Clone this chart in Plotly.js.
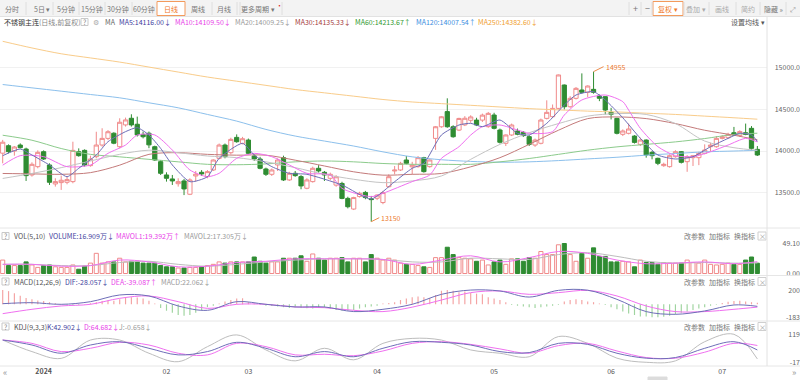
<!DOCTYPE html>
<html><head><meta charset="utf-8">
<script src="https://cdn.plot.ly/plotly-3.0.1.min.js"></script>
<style>html,body{margin:0;padding:0;background:#fff;overflow:hidden}#chart{width:800px;height:380px}</style>
</head><body><div id="chart"></div>
<script>
// ---------- data ----------
const openP = [13974,14064,14000,14072,14024,13712,13812,13992,13832,13604,13620,13624,13632,13992,14008,13824,13932,14072,14152,14214,14052,14314,14394,14322,14200,14214,14052,13872,13712,13664,13607,13640,13480,13700,13744,13692,13772,13912,14072,13980,14164,14092,14132,13940,13904,13784,13720,13832,13920,13652,13732,13692,13552,13632,13792,13744,13672,13590,13610,13430,13302,13452,13502,13424,13432,13380,13571,13760,13772,13892,13810,13812,13920,13812,14152,14292,14474,14292,14252,14314,14370,14372,14372,14293,14433,14253,14093,14193,14241,14225,14173,14072,14093,14393,14413,14513,14794,14533,14634,14734,14706,14742,14662,14654,14465,14393,14201,14213,14180,14080,14132,13984,13912,13824,13812,13932,13992,13872,13920,13920,13972,14052,14052,14152,14160,14220,14186,14220,14273,14020];
const highP = [14134,14080,14060,14092,14040,13864,14008,14008,13852,13672,13704,13692,14112,14032,14020,13944,14232,14274,14252,14226,14394,14402,14442,14414,14234,14234,14064,13892,13744,13712,13672,13664,13672,13760,13770,13770,13900,14090,14090,14160,14200,14170,14150,13960,13930,13800,13790,13912,13944,13750,13760,13710,13672,13812,13830,13760,13740,13710,13630,13450,13450,13510,13520,13460,13480,13520,13720,13820,13870,13940,13870,13940,13930,13900,14300,14420,14634,14310,14400,14420,14430,14400,14450,14470,14460,14270,14200,14330,14270,14240,14190,14150,14390,14610,14560,14920,14800,14660,14770,14934,14790,14955,14680,14660,14520,14400,14260,14330,14190,14160,14140,14000,13920,13860,13960,14010,14000,13950,13950,13990,14080,14100,14180,14190,14220,14290,14250,14330,14300,14060];
const lowP = [13852,13972,13944,14032,13640,13692,13792,13892,13592,13572,13532,13600,13612,13932,13812,13812,13912,14052,14132,14082,14032,14294,14294,14174,14152,14034,13880,13712,13632,13592,13572,13470,13470,13632,13700,13672,13760,13900,13912,13960,14100,14080,13960,13880,13780,13700,13700,13760,13640,13640,13690,13540,13540,13620,13740,13640,13650,13570,13420,13310,13290,13440,13420,13150,13410,13360,13560,13720,13760,13840,13720,13800,13740,13800,14014,14280,14280,14160,14240,14300,14340,14300,14350,14280,14260,14090,14060,14180,14190,14170,14060,14050,14080,14380,14400,14500,14500,14520,14620,14690,14650,14690,14600,14440,14380,14200,14180,14200,14090,14060,13920,13900,13830,13810,13800,13920,13850,13750,13820,13830,13960,13990,14040,14140,14150,14180,14170,14190,14000,13940];
const closeP = [14106,13992,14048,14040,13704,13840,13984,13904,13624,13632,13648,13656,14008,13944,13832,13904,14072,14152,14232,14094,14346,14374,14314,14194,14172,14074,13892,13732,13672,13640,13632,13544,13652,13722,13724,13752,13892,14072,13932,14140,14112,14148,13972,13904,13792,13720,13772,13892,13652,13732,13704,13580,13652,13792,13760,13712,13720,13690,13430,13330,13440,13492,13440,13416,13470,13500,13691,13770,13852,13852,13830,13920,13752,13892,14292,14412,14292,14172,14392,14394,14410,14313,14432,14453,14273,14105,14193,14313,14201,14185,14080,14132,14373,14465,14513,14915,14533,14634,14754,14706,14782,14706,14634,14493,14441,14213,14241,14265,14104,14132,13952,13944,13852,13840,13944,13992,13864,13932,13944,13972,14012,14072,14152,14172,14200,14192,14234,14200,14032,13952];
const volume = [22,13,13,13,19,14,10,13,14,11,10,10,14,7,12,17,33,17,19,19,25,19,20,20,17,17,17,13,11,11,9,9,10,10,11,13,15,19,17,19,19,19,19,27,20,17,19,19,25,25,25,29,20,32,25,22,25,25,26,19,25,25,19,31,25,22,25,22,17,15,15,13,11,10,26,26,43,31,26,25,24,20,22,14,19,22,15,24,24,20,26,25,36,31,31,47,49.1,31,20,33,25,42,28,28,19,19,20,19,11,22,18,18,15,18,17,17,17,22,18,17,22,15,14,15,17,15,15,22,27,16.909];
const macdHist = [200,185,155,120,90,70,55,45,30,15,5,-5,-10,-8,5,15,30,45,55,50,70,90,100,95,80,50,10,-50,-90,-120,-150,-160,-150,-120,-80,-40,-20,10,40,60,80,85,30,10,-10,-20,-25,-30,-40,-50,-40,-45,-55,-60,-40,-45,-60,-80,-90,-85,-80,-60,-40,-30,-20,10,20,30,60,80,100,110,100,90,130,190,200,190,170,180,160,150,140,100,80,60,30,-10,-20,-30,-40,-50,-40,-30,-20,-10,40,60,70,60,40,30,10,-10,-40,-70,-100,-130,-150,-170,-170,-180,-183,-175,-160,-140,-120,-100,-80,-60,-40,-20,-5,20,35,45,50,40,30,22.062];

// short moving averages, read at these candle indices
const ma5Idx = [0,3,5,8,11,13,16,18,21,23,25,27,29,32,35,37,41,43,46,49,52,58,63,67,70,72,75,78,80,82,85,88,90,93,96,98,101,103,106,109,112,115,118,121,124,126,128,129];
const ma5    = [13944,14024,13952,13832,13691,13792,13952,14112,14233,14281,14193,14032,13832,13631,13691,13912,14092,13952,13812,13732,13720,13591,13423,13631,13792,13852,14193,14313,14333,14293,14373,14213,14193,14333,14553,14674,14714,14614,14400,14153,13952,13904,13932,14052,14152,14213,14193,14116];
const ma10Idx = [0,3,7,11,15,18,21,23,26,29,32,35,37,40,43,46,49,52,56,58,63,65,70,73,75,78,80,82,85,88,90,94,96,99,103,106,107,109,112,115,118,121,124,127,129];
const ma10    = [13830,13944,13932,13812,13832,13972,14072,14192,14193,14012,13772,13691,13732,13912,13972,13932,13832,13732,13712,13551,13451,13491,13632,13712,13912,14052,14192,14293,14313,14253,14213,14233,14433,14614,14674,14594,14493,14273,14052,13944,13932,13992,14072,14152,14110];
// other line series sampled at these candle indices
const sampleIdx = [0,5,10,15,20,25,30,35,40,45,50,55,60,65,70,75,80,85,90,95,100,105,110,115,120,125,129];
const ma20  = [13670,13730,13800,13880,13960,14010,13980,13940,13920,13870,13800,13720,13660,13620,13640,13700,13900,14080,14220,14330,14420,14450,14440,14330,14120,14040,14009];
const ma30  = [13730,13725,13720,13740,13830,13960,13980,13960,13950,13950,13890,13820,13750,13710,13720,13730,13810,13920,14080,14250,14390,14410,14390,14330,14250,14190,14135];
const ma60  = [14190,14130,14030,13960,13930,13900,13870,13840,13835,13845,13870,13880,13870,13850,13840,13840,13840,13870,13910,13960,14010,14050,14080,14110,14150,14200,14214];
const ma120 = [14800,14760,14720,14680,14640,14580,14520,14440,14360,14260,14180,14120,14060,13990,13930,13895,13875,13865,13870,13885,13905,13925,13950,13970,13990,14000,14008];
const ma250 = [15320,15240,15170,15120,15070,15010,14950,14890,14840,14790,14740,14700,14660,14620,14590,14570,14550,14530,14510,14495,14480,14470,14455,14440,14420,14400,14383];
const mavol1 = [15,15,12,13,22,19,11,12,18,20,24,24,24,23,15,22,29,19,26,36,33,22,16,17,19,16,19.392];
const mavol2 = [15,15,13,13,18,20,15,12,15,19,22,24,24,23,19,19,25,24,23,31,34,28,20,17,18,17,17.305];
const dif = [9,23,0,37,131,117,-23,-84,37,0,-37,-37,-102,-70,0,140,200,187,102,196,198,70,-102,-140,-93,-9,-28.057];
const dea = [-131,-70,-23,0,84,117,37,-57,0,0,-37,-47,-84,-102,-40,60,164,187,140,164,195,117,-23,-102,-102,-70,-39.087];
const kdjK = [91,67,27,67,83,51,19,35,80,51,10,35,10,51,83,80,67,35,30,75,70,27,3,6,51,83,42.902];
const kdjD = [91,75,35,51,80,67,27,19,75,59,19,22,15,38,75,83,70,48,27,64,75,38,6,3,32,75,64.682];
const kdjJ = [91,35,2,91,91,27,-14,59,116,43,-10,51,-5,75,99,91,43,27,10,108,75,3,-17,-10,83,119,-0.658];

const monthTickIdx = [7,28,42,64,84,104,123];
const monthTickText = ['<b>2024</b>','02','03','04','05','06','07'];
const priceTicks = [13500,14000,14500,15000];
const priceTickText = ['13500.0','14000.0','14500.0','15000.0'];

// ---------- build ----------
const W=800,H=380;
const px=x=>x/W, py=y=>1-y/H;
const idx = openP.map((_,i)=>i);
const up = openP.map((o,i)=>closeP[i]>=o);
const RED='#f08a8a', GREEN='#2f8c32';
const F='"Noto Sans CJK SC","Noto Sans",sans-serif';

const traces = [];
traces.push({type:'candlestick',x:idx,open:openP,high:highP,low:lowP,close:closeP,xaxis:'x',yaxis:'y',
  increasing:{line:{color:RED,width:1},fillcolor:'#ffffff'},
  decreasing:{line:{color:GREEN,width:1},fillcolor:GREEN},
  whiskerwidth:0,hoverinfo:'skip',showlegend:false});
const maDefs=[[sampleIdx,ma250,'#f9cc8a',0.9],[sampleIdx,ma120,'#8cc0ec',0.9],[sampleIdx,ma60,'#8ccb8c',0.9],[sampleIdx,ma30,'#c47a7a',0.9],[sampleIdx,ma20,'#c4c4c4',0.9],[ma10Idx,ma10,'#f070f0',0.7],[ma5Idx,ma5,'#6e6eb8',0.6]];
maDefs.forEach(([xs,d,c,s])=>traces.push({type:'scatter',mode:'lines',x:xs,y:d,xaxis:'x',yaxis:'y',
  line:{color:c,width:1,shape:'spline',smoothing:s},hoverinfo:'skip',showlegend:false}));
traces.push({type:'bar',x:idx,y:volume,xaxis:'x',yaxis:'y2',width:0.7,
  marker:{color:up.map(u=>u?'#ffffff':GREEN),line:{color:up.map(u=>u?RED:GREEN),width:1}},hoverinfo:'skip',showlegend:false});
traces.push({type:'scatter',mode:'lines',x:sampleIdx,y:mavol2,xaxis:'x',yaxis:'y2',line:{color:'#bdbdbd',width:1,shape:'spline'},hoverinfo:'skip',showlegend:false});
traces.push({type:'scatter',mode:'lines',x:sampleIdx,y:mavol1,xaxis:'x',yaxis:'y2',line:{color:'#f070f0',width:1,shape:'spline'},hoverinfo:'skip',showlegend:false});
traces.push({type:'bar',x:idx,y:macdHist,xaxis:'x',yaxis:'y3',width:0.2,
  marker:{color:macdHist.map(v=>v>=0?'#f4a3a3':'#9fd49f'),line:{width:0}},hoverinfo:'skip',showlegend:false});
traces.push({type:'scatter',mode:'lines',x:sampleIdx,y:dea,xaxis:'x',yaxis:'y3',line:{color:'#f070f0',width:1,shape:'spline'},hoverinfo:'skip',showlegend:false});
traces.push({type:'scatter',mode:'lines',x:sampleIdx,y:dif,xaxis:'x',yaxis:'y3',line:{color:'#6e6eb8',width:1,shape:'spline'},hoverinfo:'skip',showlegend:false});
traces.push({type:'scatter',mode:'lines',x:sampleIdx,y:kdjJ,xaxis:'x',yaxis:'y4',line:{color:'#bdbdbd',width:1,shape:'spline'},hoverinfo:'skip',showlegend:false});
traces.push({type:'scatter',mode:'lines',x:sampleIdx,y:kdjD,xaxis:'x',yaxis:'y4',line:{color:'#f070f0',width:1,shape:'spline'},hoverinfo:'skip',showlegend:false});
traces.push({type:'scatter',mode:'lines',x:sampleIdx,y:kdjK,xaxis:'x',yaxis:'y4',line:{color:'#6e6eb8',width:1,shape:'spline'},hoverinfo:'skip',showlegend:false});

const tickFont={family:F,size:7,color:'#666'};
function yax(dom,range,tv,tt,grid){
  return {domain:[py(dom[1]),py(dom[0])],range:range,anchor:'free',position:1,side:'left',
    tickvals:tv,ticktext:tt,ticks:'',tickfont:tickFont,showgrid:!!grid,gridcolor:'#f1f1f1',gridwidth:1,
    zeroline:false,showline:false,fixedrange:true};
}

const shapes=[];
const line=(x0,y0,x1,y1,c,w)=>shapes.push({type:'line',xref:'paper',yref:'paper',x0:px(x0),y0:py(y0),x1:px(x1),y1:py(y1),line:{color:c||'#e4e4e4',width:w||1}});
const rect=(x0,y0,x1,y1,fill,lc)=>shapes.push({type:'rect',xref:'paper',yref:'paper',x0:px(x0),y0:py(y0),x1:px(x1),y1:py(y1),fillcolor:fill,line:{color:lc||'rgba(0,0,0,0)',width:1},layer:'below'});
// toolbar
rect(0,0,800,16.5,'#f3f3f3','#f3f3f3');
line(0,16.5,800,16.5,'#e2e2e2');
[26,53,79,105,132,212,237,240,282].forEach(x=>line(x,2,x,15,'#dedede'));
rect(157,1.5,185,15.5,'#ffffff','#f39a5c');
[629,641,652,684,709,736,760,786].forEach(x=>line(x,2,x,15,'#dedede'));
rect(653,1.5,683,15.5,'#ffffff','#f39a5c');
// panel separators
[228,275.5,321,366].forEach(y=>line(0,y,800,y,'#e6e6e6'));
line(767,17,767,366,'#e2e2e2');
// help boxes
[[81,22],[2,236],[2,281.5],[2,326.5]].forEach(([x,y])=>rect(x,y-3.5,x+7,y+3.5,'#ffffff','#c8c8c8'));
// close boxes
[236,281.5,326.5].forEach(y=>rect(758,y-4,766,y+4,'#ffffff','#cfcfcf'));
// scroll thumb
rect(648,377,667,380,'#dcdcdc','#dcdcdc');

const anns=[];
const A=(t,x,y,c,opt)=>anns.push(Object.assign({xref:'paper',yref:'paper',x:px(x),y:py(y),text:t,showarrow:false,xanchor:'left',yanchor:'middle',borderpad:0,
  font:{family:F,size:7,color:c||'#666'}},opt||{}));
// toolbar text
[['分时',12],['5日 ▾',42],['5分钟',66],['15分钟',92],['30分钟',118],['60分钟',144],['周线',198],['月线',224],['更多周期 ▾',258]]
  .forEach(([t,x])=>A(t,x,8.5,'#777',{xanchor:'center'}));
A('日线',171,8.5,'#f07a2a',{xanchor:'center'});
A('•',279,5,'#e02020',{xanchor:'center'});
A('+',635,8.5,'#777',{xanchor:'center',font:{family:F,size:9,color:'#777'}});
A('−',647,8.5,'#777',{xanchor:'center',font:{family:F,size:9,color:'#777'}});
A('复权 ▾',668,8.5,'#f07a2a',{xanchor:'center'});
A('叠加 ▾',696,8.5,'#aaa',{xanchor:'center'});
A('画线',722,8.5,'#aaa',{xanchor:'center'});
A('简约',748,8.5,'#aaa',{xanchor:'center'});
A('隐藏 »',773,8.5,'#777',{xanchor:'center'});
A('⤢',793,8.5,'#999',{xanchor:'center'});
// legend row
A('不锈钢主连',3,22,'#333');
A('(日线,前复权)',38,22,'#888');
A('?',84.5,22,'#888',{xanchor:'center'});
A('⚙',96,22,'#aaa',{xanchor:'center'});
A('MA',104,22,'#666');
A('MA5:14116.00↓',118,22,'#3d3d9e');
A('MA10:14109.50↓',174,22,'#e83ee8');
A('MA20:14009.25↓',234,22,'#9a9a9a');
A('MA30:14135.33↓',294,22,'#a53c3c');
A('MA60:14213.67↑',354,22,'#2f9a2f');
A('MA120:14007.54↑',415,22,'#3a8ee0');
A('MA250:14382.60↓',477,22,'#f0a030');
A('设置均线 ▾',730,22,'#555');
// sub legends
const subRows=[[236,[['VOL(5,10)','#555'],['VOLUME:16.909万↓','#44449e'],['MAVOL1:19.392万↑','#e83ee8'],['MAVOL2:17.305万↓','#9a9a9a']],[13,48,115,183]],
  [281.5,[['MACD(12,26,9)','#555'],['DIF:-28.057↓','#44449e'],['DEA:-39.087↑','#e83ee8'],['MACD:22.062↓','#9a9a9a']],[13,64,110,160]],
  [326.5,[['KDJ(9,3,3)','#555'],['K:42.902↓','#44449e'],['D:64.682↓','#e83ee8'],['J:-0.658↓','#9a9a9a']],[13,46,83,118]]];
subRows.forEach(([y,items,xs])=>{
  A('?',5.5,y,'#888',{xanchor:'center'});
  items.forEach(([t,c],k)=>A(t,xs[k],y,c));
  A('改参数',683,y,'#777'); A('加指标',708,y,'#777'); A('换指标',733,y,'#777');
  A('×',762,y,'#999',{xanchor:'center'});
});
A('«',5,372,'#999',{xanchor:'center',font:{family:F,size:9,color:'#999'}});
A('»',794,372,'#999',{xanchor:'center',font:{family:F,size:9,color:'#999'}});
// extreme markers
anns.push({xref:'x',yref:'y',x:101,y:14955,text:'14955',showarrow:true,arrowhead:0,arrowwidth:1,arrowcolor:'#ec8a4a',ax:10,ay:-5,xanchor:'left',yanchor:'middle',font:{family:F,size:7,color:'#ec7a30'}});
anns.push({xref:'x',yref:'y',x:63,y:13150,text:'13150',showarrow:true,arrowhead:0,arrowwidth:1,arrowcolor:'#ec8a4a',ax:8,ay:-4,xanchor:'left',yanchor:'middle',font:{family:F,size:7,color:'#ec7a30'}});

const layout={
  width:W,height:H,margin:{l:0,r:0,t:0,b:0},paper_bgcolor:'#ffffff',plot_bgcolor:'rgba(0,0,0,0)',
  showlegend:false,barmode:'overlay',boxgap:0.15,boxgroupgap:0.15,hovermode:false,
  xaxis:{domain:[0,767/W],range:[-0.46,130.65],anchor:'y4',rangeslider:{visible:false},showgrid:false,zeroline:false,showline:false,
    tickvals:monthTickIdx,ticktext:monthTickText,ticks:'',tickfont:{family:F,size:7,color:'#555'},fixedrange:true},
  yaxis:yax([28,226],[13098,15480],priceTicks,priceTickText,true),
  yaxis2:yax([241,274],[-0.8,53.2],[0,49.1],['0.00','49.10']),
  yaxis3:yax([285,320],[-220,271],[-183,200],['-183','200']),
  yaxis4:yax([331,366],[-35,135],[-17,119],['-17','119']),
  shapes:shapes,annotations:anns
};
Plotly.newPlot('chart',traces,layout,{staticPlot:true,displayModeBar:false});
</script></body></html>
